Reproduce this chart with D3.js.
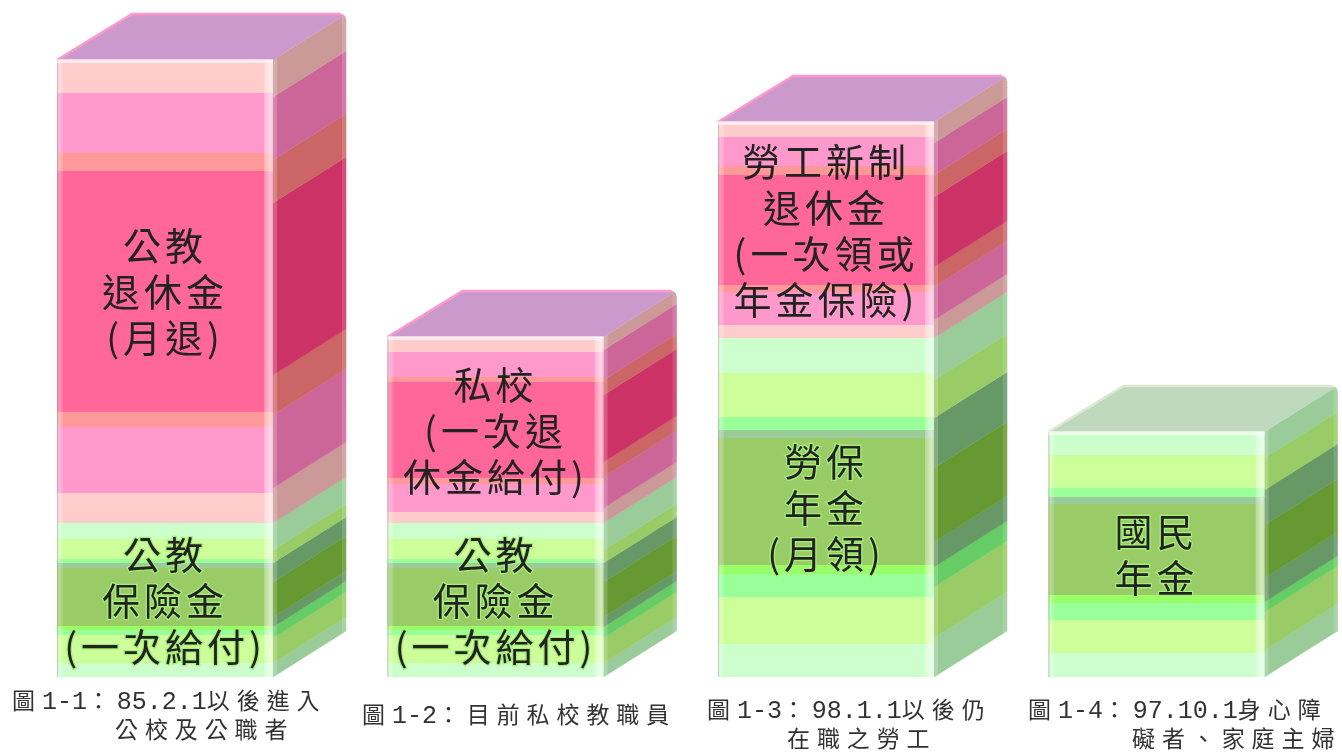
<!DOCTYPE html>
<html>
<head>
<meta charset="utf-8">
<script src="https://cdn.jsdelivr.net/npm/d3@7/dist/d3.min.js"></script>
<style>
  html, body { margin: 0; padding: 0; background: #fff; overflow: hidden; }
  .label { font-family: "Noto Sans CJK TC", sans-serif; font-size: 38px; letter-spacing: 4px; fill: #222; }
  .caption { font-family: "Noto Sans CJK TC", sans-serif; font-size: 23px; fill: #333; }
  .caption .latin { font-family: "Liberation Mono", monospace; font-size: 25px; }
</style>
</head>
<body>
<svg id="figure" width="1342" height="754"></svg>
<script>
var categories = ['公教+公教', '私校+公教', '勞工+勞保', '國民年金']

// band thickness, listed from the bottom of each block to its top
var greenFront = [
  [14, 28, 5, 4, 58, 5, 4, 20, 16],
  [14, 28, 5, 4, 58, 5, 4, 20, 16],
  [33, 47, 23, 9, 127, 8, 13, 44, 35],
  [24, 33, 17, 8, 91, 7, 9, 33, 23]
]
var greenSide = [
  [14, 25, 11, 10, 35, 19, 13, 27],
  [14, 25, 11, 10, 35, 19, 13, 27],
  [39, 51, 20, 25, 74, 50, 38, 42],
  [27, 38, 10, 24, 53, 35, 32, 26]
]
var pinkFront = [
  [30, 66, 15, 241, 18, 60, 33],
  [11, 28, 6, 96, 5, 25, 15],
  [13, 33, 7, 110, 9, 29, 15],
  []
]
var pinkSide = [
  [35, 73, 40, 172, 43, 63, 37],
  [15, 31, 15, 67, 15, 30, 13],
  [18, 33, 20, 70, 22, 32, 21],
  []
]

var greenFrontColors = ['#CCFFCC', '#CCFF99', '#99FF99', '#99FF66', '#99CC66', '#99CC99', '#99FF99', '#CCFF99', '#CCFFCC']
var greenSideColors = ['#99CC99', '#99CC66', '#66CC66', '#669966', '#669933', '#669966', '#99CC66', '#99CC99']
var pinkFrontColors = ['#FFCCCC', '#FF99CC', '#FF9999', '#FF6699', '#FF9999', '#FF99CC', '#FFCCCC']
var pinkSideColors = ['#CC9999', '#CC6699', '#CC6666', '#CC3366', '#CC6666', '#CC6699', '#CC9999']
var topColors = ['#CC99CC', '#CC99CC', '#CC99CC', '#BFD9BF']
var edgeColors = ['#FF99CC', '#FF99CC', '#FF99CC', '#DDE8D0']

var pinkLabels = [['公教', '退休金', '(月退)'], ['私校', '(一次退', '休金給付)'], ['勞工新制', '退休金', '(一次領或', '年金保險)'], []]
var greenLabels = [['公教', '保險金', '(一次給付)'], ['公教', '保險金', '(一次給付)'], ['勞保', '年金', '(月領)'], ['國民', '年金']]

var captionLines = [
  ['圖1-1：85.2.1以後進入', '公校及公職者'],
  ['圖1-2：目前私校教職員'],
  ['圖1-3：98.1.1以後仍', '在職之勞工'],
  ['圖1-4：97.10.1身心障', '礙者、家庭主婦']
]
// [x, baseline] for each caption line
var captionBoxes = [
  [[12, 709], [115, 738]],
  [[362, 723]],
  [[707, 718], [787, 747]],
  [[1028, 718], [1132, 747]]
]

var svg = d3.select('#figure')
var defs = svg.append('defs')
defs.append('filter').attr('id', 'soft').append('feGaussianBlur').attr('stdDeviation', 0.55)

var bevelLeft = defs.append('linearGradient').attr('id', 'bevelLeft')
bevelLeft.append('stop').attr('offset', 0).attr('stop-color', '#888').attr('stop-opacity', 0.55)
bevelLeft.append('stop').attr('offset', 0.3).attr('stop-color', '#fff').attr('stop-opacity', 0.3)
bevelLeft.append('stop').attr('offset', 1).attr('stop-color', '#fff').attr('stop-opacity', 0.12)
var bevelRight = defs.append('linearGradient').attr('id', 'bevelRight')
bevelRight.append('stop').attr('offset', 0).attr('stop-color', '#fff').attr('stop-opacity', 0.25)
bevelRight.append('stop').attr('offset', 0.7).attr('stop-color', '#fff').attr('stop-opacity', 0.6)
bevelRight.append('stop').attr('offset', 1).attr('stop-color', '#fff').attr('stop-opacity', 0.4)

var x = d3.scaleBand().domain(categories).range([57, 1264.5]).paddingInner(0.3464).paddingOuter(0)
var y = d3.scaleLinear().domain([0, 677]).range([677, 0])
var depthX = 73
var depthY = 46
var lineHeight = 46

var root = svg.append('g').attr('filter', 'url(#soft)')
var line = d3.line()

// stack thicknesses on top of a start value
function bands(values, colors, start) {
  var tops = Array.from(d3.cumsum(values))
  return values.map(function (v, i) {
    return { from: start + (i ? tops[i - 1] : 0), to: start + tops[i], color: colors[i] }
  })
}

// latin runs are half as wide as the CJK characters in the captions
function captionRuns(lines, boxes) {
  var runs = []
  lines.forEach(function (s, i) {
    s.match(/[\x00-\x7F]+|[^\x00-\x7F]+/g).forEach(function (t, j) {
      runs.push({ text: t, latin: t.charCodeAt(0) < 128, x: j ? null : boxes[i][0], y: j ? null : boxes[i][1] })
    })
  })
  return runs
}

categories.forEach(function (cat, c) {
  var left = x(cat)
  var right = left + x.bandwidth()
  var far = right + depthX
  var g = root.append('g')
  var greenTotal = d3.sum(greenFront[c])
  var total = greenTotal + d3.sum(pinkFront[c])
  var backY = y(total) - depthY

  var sideBands = bands(greenSide[c], greenSideColors, 0).concat(bands(pinkSide[c], pinkSideColors, greenTotal))
  g.selectAll('path.side').data(sideBands).join('path').attr('class', 'side')
    .attr('d', function (d) {
      return line([[right, y(d.from)], [far, y(d.from) - depthY], [far, y(d.to) - depthY], [right, y(d.to)]]) + 'Z'
    })
    .attr('fill', function (d) { return d.color })
    .attr('stroke', function (d) { return d.color })
    .attr('stroke-width', 0.5)

  // lighter rims along both upright edges of the side face
  g.append('path')
    .attr('d', line([[far - 4, y(0) - depthY + 2.5], [far, y(0) - depthY], [far, backY], [far - 4, backY + 2.5]]) + 'Z')
    .attr('fill', '#fff').attr('opacity', 0.14)
  g.append('path')
    .attr('d', line([[right, y(0)], [right + 4, y(0) - 2.5], [right + 4, y(total) - 2.5], [right, y(total)]]) + 'Z')
    .attr('fill', '#fff').attr('opacity', 0.2)

  g.append('path').attr('class', 'top')
    .attr('d', line([[left, y(total)], [left + depthX + 2, backY], [far, backY], [right, y(total)]]) + 'Z')
    .attr('fill', topColors[c])
  g.append('path').attr('class', 'top-edge')
    .attr('d', line([[left, y(total)], [left + depthX + 2, backY], [far - 3, backY]]))
    .attr('fill', 'none')
    .attr('stroke', edgeColors[c])
    .attr('stroke-width', 2.5)

  // rounded far corner
  var corner = d3.path()
  corner.moveTo(far - 5, backY - 2)
  corner.lineTo(far + 2, backY - 2)
  corner.lineTo(far + 2, backY + 5)
  corner.lineTo(far, backY + 5)
  corner.arcTo(far, backY, far - 5, backY, 5)
  corner.closePath()
  g.append('path').attr('d', corner.toString()).attr('fill', '#fff')

  var frontBands = bands(greenFront[c], greenFrontColors, 0).concat(bands(pinkFront[c], pinkFrontColors, greenTotal))
  g.selectAll('rect.front').data(frontBands).join('rect').attr('class', 'front')
    .attr('x', left)
    .attr('width', x.bandwidth())
    .attr('y', function (d) { return y(d.to) })
    .attr('height', function (d) { return y(d.from) - y(d.to) })
    .attr('fill', function (d) { return d.color })

  g.append('rect').attr('x', left).attr('y', y(total)).attr('width', 6).attr('height', y(0) - y(total)).attr('fill', 'url(#bevelLeft)')
  g.append('rect').attr('x', right - 9).attr('y', y(total)).attr('width', 9).attr('height', y(0) - y(total)).attr('fill', 'url(#bevelRight)')
  g.append('rect').attr('x', left).attr('y', y(total) - 1).attr('width', x.bandwidth()).attr('height', 4).attr('fill', '#fff').attr('opacity', 0.6)

  // block labels sit around the middle of their block, one text per block
  function drawLabel(lines, from, to, halo) {
    if (!lines.length) return
    var mid = y((from + to) / 2) + 1
    var label = g.append('text').attr('class', 'label')
      .attr('text-anchor', 'middle')
      .attr('stroke', halo)
      .attr('stroke-width', halo === 'none' ? 0 : 2.5)
      .attr('paint-order', 'stroke')
    label.selectAll('tspan').data(lines).join('tspan')
      .attr('x', (left + right) / 2)
      .attr('y', function (d, i) { return mid + (i - (lines.length - 1) / 2) * lineHeight })
      .attr('dy', '0.36em')
      .text(function (d) { return d })
  }
  drawLabel(pinkLabels[c], greenTotal, total, 'none')
  drawLabel(greenLabels[c], 0, greenTotal, '#A6EE77')

  var caption = g.append('text').attr('class', 'caption')
  caption.selectAll('tspan').data(captionRuns(captionLines[c], captionBoxes[c])).join('tspan')
    .attr('class', function (d) { return d.latin ? 'latin' : null })
    .attr('x', function (d) { return d.x })
    .attr('y', function (d) { return d.y })
    .attr('letter-spacing', function (d) { return d.latin ? 0 : 6.9 })
    .text(function (d) { return d.text })
})
</script>
</body>
</html>
